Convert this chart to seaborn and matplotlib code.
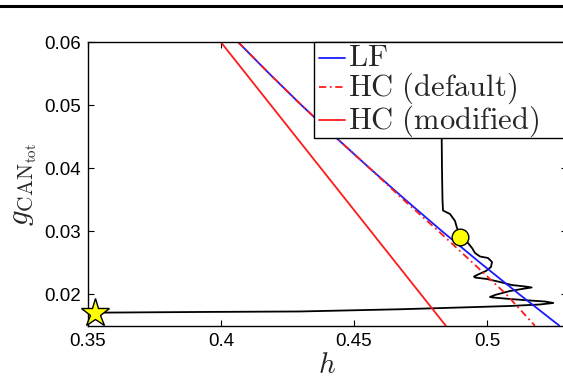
import matplotlib
matplotlib.use("Agg")
import matplotlib.pyplot as plt
from matplotlib.lines import Line2D
from matplotlib.patches import Rectangle
import seaborn as sns

# ---- data ----
lf_g = [0.060, 0.055, 0.050, 0.045, 0.040, 0.035, 0.030, 0.025, 0.020, 0.015]
lf_h = [0.4065, 0.4182, 0.4303, 0.4429, 0.4559, 0.4693, 0.4831, 0.4974, 0.5121, 0.5272]

hcd_g = [0.060, 0.055, 0.050, 0.045, 0.040, 0.035, 0.030, 0.025, 0.020, 0.015]
hcd_h = [0.4065, 0.4182, 0.4303, 0.4429, 0.4559, 0.4686, 0.4818, 0.4946, 0.5072, 0.5180]

hcm_h = [0.4000, 0.4845]
hcm_g = [0.0600, 0.0150]

traj_h = [0.35263, 0.39211, 0.42970, 0.46729, 0.49237, 0.50865, 0.51992, 0.52492,
          0.52180, 0.51617, 0.50865, 0.50226, 0.50113, 0.50301, 0.50865, 0.51429,
          0.51680, 0.51429, 0.50929, 0.50489, 0.49989, 0.49549, 0.49511, 0.49662,
          0.49962, 0.50150, 0.50188, 0.50038, 0.49737, 0.49549, 0.49436, 0.49286,
          0.48985, 0.48872, 0.48797, 0.48609, 0.48346, 0.48327, 0.48308, 0.48297, 0.48289]
traj_g = [0.01707, 0.01718, 0.01726, 0.01761, 0.01792, 0.01813, 0.01837, 0.01861,
          0.01884, 0.01900, 0.01924, 0.01948, 0.01956, 0.01988, 0.02051, 0.02091,
          0.02107, 0.02123, 0.02146, 0.02194, 0.02242, 0.02265, 0.02281, 0.02313,
          0.02369, 0.02432, 0.02512, 0.02575, 0.02599, 0.02654, 0.02734, 0.02813,
          0.02909, 0.03051, 0.03163, 0.03274, 0.03329, 0.03496, 0.03972, 0.04480, 0.05084]

start_pt = (0.3526, 0.01707)
end_pt = (0.48985, 0.02909)

xticks = [0.35, 0.4, 0.45, 0.5]
xtick_labels = ["0.35", "0.4", "0.45", "0.5"]
yticks = [0.02, 0.03, 0.04, 0.05, 0.06]
ytick_labels = ["0.02", "0.03", "0.04", "0.05", "0.06"]
legend_labels = [r"$\mathrm{LF}$", r"$\mathrm{HC\ (default)}$", r"$\mathrm{HC\ (modified)}$"]

# ---- style ----
sns.set_style("ticks")
plt.rcParams["font.family"] = ["Liberation Sans", "DejaVu Sans"]
plt.rcParams["mathtext.fontset"] = "cm"

W, H = 563, 379
AX_L, AX_B, AX_W, AX_H = 88, 325.7, 478.8, 283.4   # pixel geometry of the axes

fig = plt.figure(figsize=(W / 100, H / 100), dpi=100)
ax = fig.add_axes([AX_L / W, 1 - AX_B / H, AX_W / W, AX_H / H])

BLUE = "#1a1aff"
RED = "#ff1a1a"
DASHDOT = [4, 2, 1, 2]

sns.lineplot(x=traj_h, y=traj_g, sort=False, estimator=None, color="black", lw=1.3,
             solid_joinstyle="round", ax=ax)
sns.lineplot(x=hcm_h, y=hcm_g, sort=False, estimator=None, color=RED, lw=1.3, ax=ax)
sns.lineplot(x=lf_h, y=lf_g, sort=False, estimator=None, color=BLUE, lw=1.3, ax=ax)
sns.lineplot(x=hcd_h, y=hcd_g, sort=False, estimator=None, color=RED, lw=1.3, ax=ax)
ax.lines[-1].set_dashes(DASHDOT)

ax.plot([start_pt[0]], [start_pt[1]], marker="*", ms=21, mfc="#ffff00", mec="black",
        mew=1.0, ls="none", zorder=5, clip_on=False)
ax.plot([end_pt[0]], [end_pt[1]], marker="o", ms=12, mfc="#ffff00", mec="black",
        mew=1.0, ls="none", zorder=5)

ax.set_xlim(0.35, 0.53)
ax.set_ylim(0.015, 0.06)
ax.set_xticks(xticks)
ax.set_xticklabels(xtick_labels)
ax.set_yticks(yticks)
ax.set_yticklabels(ytick_labels)
ax.tick_params(direction="in", length=4, width=0.8, labelsize=13.5, pad=5,
               top=True, right=True, colors="black")
for s in ax.spines.values():
    s.set_visible(True)
    s.set_linewidth(1.0)
    s.set_color("black")

ax.set_xlabel(r"$h$", fontsize=21, labelpad=1)
ax.set_ylabel(r"$g_{\mathrm{CAN}_{\mathrm{tot}}}$", fontsize=22, labelpad=4)


# ---- legend box (MATLAB style, drawn in axes coordinates) ----
def ax_x(px):
    return (px - AX_L) / AX_W


def ax_y(py):
    return (AX_B - py) / AX_H


box_left, box_top, box_bottom = 314.3, 42.3, 138.3
ax.add_patch(Rectangle((ax_x(box_left), ax_y(box_bottom)), 0.6,
                       ax_y(box_top) - ax_y(box_bottom), transform=ax.transAxes,
                       facecolor="white", edgecolor="black", lw=1.0,
                       zorder=10, clip_on=False))
row_line_y = [57.5, 87, 119.5]
row_base_y = [66.5, 96, 129]
styles = [dict(color=BLUE), dict(color=RED, dashes=DASHDOT), dict(color=RED)]
for lab, ly, by, st in zip(legend_labels, row_line_y, row_base_y, styles):
    ax.add_line(Line2D([ax_x(319), ax_x(345)], [ax_y(ly), ax_y(ly)], lw=1.3,
                       transform=ax.transAxes, zorder=11, clip_on=False, **st))
    ax.text(ax_x(348), ax_y(by), lab, transform=ax.transAxes, fontsize=22,
            ha="left", va="baseline", zorder=12, clip_on=False)

fig.add_artist(Line2D([0, 1], [1 - 6 / H, 1 - 6 / H], color="black", lw=2.2,
                      transform=fig.transFigure))

fig.savefig("out.png", dpi=100)
